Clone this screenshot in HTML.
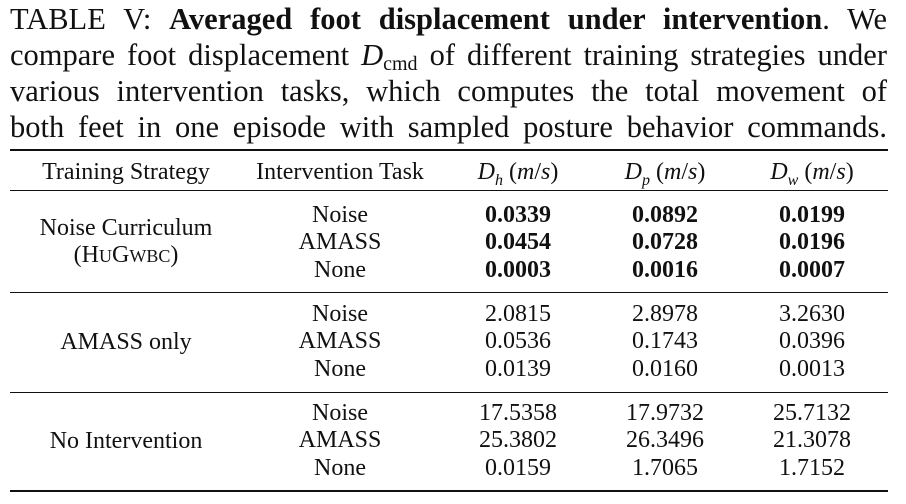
<!DOCTYPE html>
<html><head><meta charset="utf-8"><style>
body{margin:0;background:#fff;width:906px;height:504px;overflow:hidden;position:relative;font-family:"Liberation Serif",serif;color:#111}
.cap{position:absolute;left:10px;width:877px;font-size:30.5px;line-height:36px;text-align:justify;text-align-last:justify;white-space:nowrap;overflow:visible}
.rule{position:absolute;left:10px;width:878px;background:#111}
.t{position:absolute;font-size:24px;transform:translateX(-50%);white-space:nowrap;line-height:26px}
b{font-weight:bold}
i{font-style:italic}
</style></head><body>
<div class="cap" style="top:1px">TABLE V: <b>Averaged foot displacement under intervention</b>. We</div>
<div class="cap" style="top:37px">compare foot displacement <i>D</i><span style="font-size:20px;position:relative;top:5px">cmd</span> of different training strategies under</div>
<div class="cap" style="top:73px">various intervention tasks, which computes the total movement of</div>
<div class="cap" style="top:109px">both feet in one episode with sampled posture behavior commands.</div>

<div class="rule" style="top:149px;height:2px"></div>
<div class="rule" style="top:190px;height:1px"></div>
<div class="rule" style="top:292px;height:1px"></div>
<div class="rule" style="top:392px;height:1px"></div>
<div class="rule" style="top:490px;height:2px"></div>

<div class="t" style="left:126px;top:159px">Training Strategy</div>
<div class="t" style="left:340px;top:159px">Intervention Task</div>
<div class="t" style="left:518px;top:159px"><i>D<sub style="font-size:16px">h</sub></i> (<i>m</i>/<i>s</i>)</div>
<div class="t" style="left:665px;top:159px"><i>D<sub style="font-size:16px">p</sub></i> (<i>m</i>/<i>s</i>)</div>
<div class="t" style="left:812px;top:159px"><i>D<sub style="font-size:16px">w</sub></i> (<i>m</i>/<i>s</i>)</div>

<div class="t" style="left:126px;top:215px">Noise Curriculum</div>
<div class="t" style="left:126px;top:242px">(H<span style="font-size:18px">U</span>G<span style="font-size:18px">WBC</span>)</div>
<div class="t" style="left:126px;top:329px">AMASS only</div>
<div class="t" style="left:126px;top:428px">No Intervention</div>

<div class="t" style="left:340px;top:202px">Noise</div>
<div class="t" style="left:340px;top:229px">AMASS</div>
<div class="t" style="left:340px;top:257px">None</div>
<div class="t" style="left:518px;top:202px"><b>0.0339</b></div>
<div class="t" style="left:518px;top:229px"><b>0.0454</b></div>
<div class="t" style="left:518px;top:257px"><b>0.0003</b></div>
<div class="t" style="left:665px;top:202px"><b>0.0892</b></div>
<div class="t" style="left:665px;top:229px"><b>0.0728</b></div>
<div class="t" style="left:665px;top:257px"><b>0.0016</b></div>
<div class="t" style="left:812px;top:202px"><b>0.0199</b></div>
<div class="t" style="left:812px;top:229px"><b>0.0196</b></div>
<div class="t" style="left:812px;top:257px"><b>0.0007</b></div>

<div class="t" style="left:340px;top:301px">Noise</div>
<div class="t" style="left:340px;top:328px">AMASS</div>
<div class="t" style="left:340px;top:356px">None</div>
<div class="t" style="left:518px;top:301px">2.0815</div>
<div class="t" style="left:518px;top:328px">0.0536</div>
<div class="t" style="left:518px;top:356px">0.0139</div>
<div class="t" style="left:665px;top:301px">2.8978</div>
<div class="t" style="left:665px;top:328px">0.1743</div>
<div class="t" style="left:665px;top:356px">0.0160</div>
<div class="t" style="left:812px;top:301px">3.2630</div>
<div class="t" style="left:812px;top:328px">0.0396</div>
<div class="t" style="left:812px;top:356px">0.0013</div>

<div class="t" style="left:340px;top:400px">Noise</div>
<div class="t" style="left:340px;top:427px">AMASS</div>
<div class="t" style="left:340px;top:455px">None</div>
<div class="t" style="left:518px;top:400px">17.5358</div>
<div class="t" style="left:518px;top:427px">25.3802</div>
<div class="t" style="left:518px;top:455px">0.0159</div>
<div class="t" style="left:665px;top:400px">17.9732</div>
<div class="t" style="left:665px;top:427px">26.3496</div>
<div class="t" style="left:665px;top:455px">1.7065</div>
<div class="t" style="left:812px;top:400px">25.7132</div>
<div class="t" style="left:812px;top:427px">21.3078</div>
<div class="t" style="left:812px;top:455px">1.7152</div>
</body></html>
